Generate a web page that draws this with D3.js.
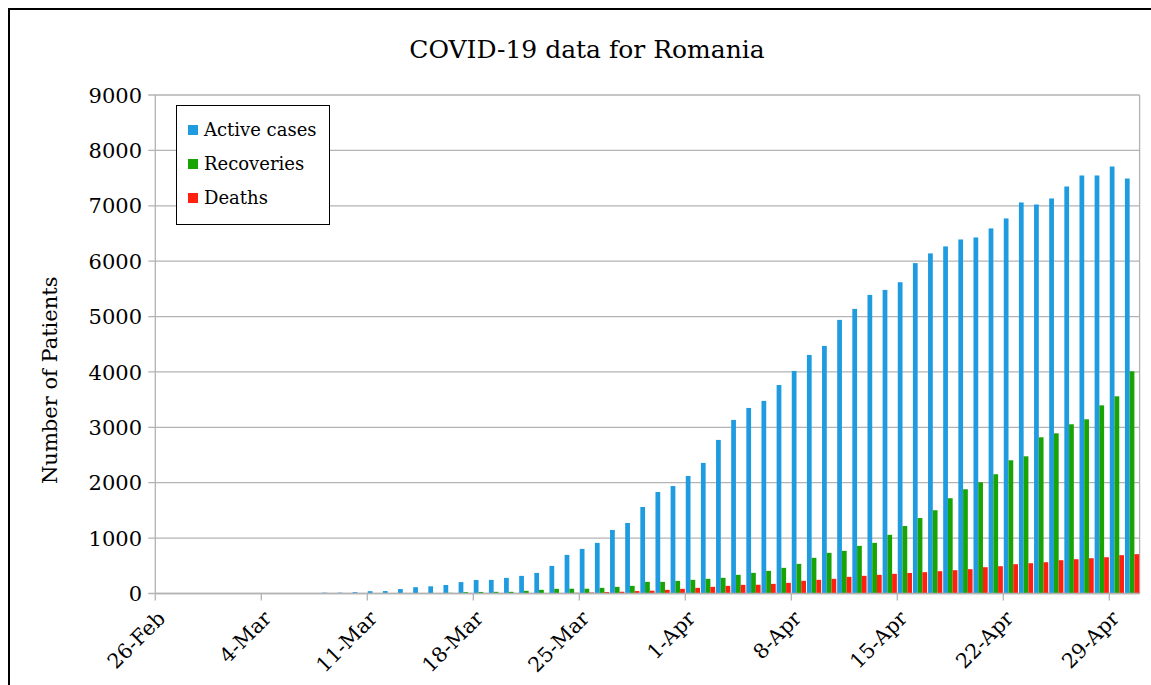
<!DOCTYPE html>
<html><head><meta charset="utf-8">
<script src="https://cdn.jsdelivr.net/npm/d3@7"></script>
<style>
html,body{margin:0;padding:0;background:#fff;}
svg{display:block;font-family:"DejaVu Serif",serif;}
</style></head>
<body><svg id="chart" width="1151" height="685"></svg>
<script>
const dates = ["26-Feb","27-Feb","28-Feb","29-Feb","1-Mar","2-Mar","3-Mar","4-Mar","5-Mar","6-Mar","7-Mar","8-Mar","9-Mar","10-Mar","11-Mar","12-Mar","13-Mar","14-Mar","15-Mar","16-Mar","17-Mar","18-Mar","19-Mar","20-Mar","21-Mar","22-Mar","23-Mar","24-Mar","25-Mar","26-Mar","27-Mar","28-Mar","29-Mar","30-Mar","31-Mar","1-Apr","2-Apr","3-Apr","4-Apr","5-Apr","6-Apr","7-Apr","8-Apr","9-Apr","10-Apr","11-Apr","12-Apr","13-Apr","14-Apr","15-Apr","16-Apr","17-Apr","18-Apr","19-Apr","20-Apr","21-Apr","22-Apr","23-Apr","24-Apr","25-Apr","26-Apr","27-Apr","28-Apr","29-Apr","30-Apr"];
const activeCases = [1,1,3,3,3,3,4,4,6,9,9,15,15,24,42,44,80,114,130,154,206,244,246,282,318,372,498,697,805,913,1147,1273,1562,1832,1940,2122,2358,2773,3134,3350,3477,3765,4018,4307,4470,4940,5138,5391,5481,5620,5965,6140,6266,6392,6428,6591,6771,7060,7023,7132,7348,7547,7547,7709,7492];
const recoveries = [0,0,1,1,1,1,1,1,3,3,3,3,3,3,6,6,9,9,9,12,25,28,30,30,48,66,84,86,86,102,120,138,210,210,228,247,265,283,337,373,409,463,535,644,734,770,860,914,1059,1218,1362,1503,1720,1882,2008,2153,2405,2477,2820,2892,3055,3145,3397,3560,4011];
const deaths = [0,0,0,0,0,0,0,0,0,0,0,0,0,0,0,0,0,0,0,0,0,0,0,0,0,4,8,12,17,26,32,44,50,66,84,102,120,138,156,158,174,192,229,247,265,301,319,337,355,370,385,403,421,439,475,493,529,547,565,601,619,637,655,692,710];
const seriesNames = ["Active cases","Recoveries","Deaths"];
const seriesColors = ["#1f9be0","#19a405","#ff2010"];
const yTicks = [0,1000,2000,3000,4000,5000,6000,7000,8000,9000];
const xTickLabels = ["26-Feb","4-Mar","11-Mar","18-Mar","25-Mar","1-Apr","8-Apr","15-Apr","22-Apr","29-Apr"];
const title = "COVID-19 data for Romania";
const yTitle = "Number of Patients";

const svg = d3.select("#chart");
const L = 155.3, R = 1139.6, T = 95, B = 593.5;
const x = d3.scaleBand().domain(dates).range([L, R]).paddingInner(0.06).paddingOuter(0.03);
const sub = d3.scaleBand().domain(seriesNames).range([0, x.bandwidth()]);
const y = d3.scaleLinear().domain([0, 9000]).range([B, T]);
const grid = "#b3b3b3";

// outer frame
svg.append("rect").attr("x",9).attr("y",9).attr("width",1300).attr("height",900)
  .attr("fill","none").attr("stroke","#000").attr("stroke-width",2);

// title
svg.append("text").attr("x",587).attr("y",58).attr("text-anchor","middle")
  .attr("font-size",25).attr("fill","#000").text(title);

// gridlines
svg.append("g").selectAll("line").data(yTicks).join("line")
  .attr("x1",L-7).attr("x2",R).attr("y1",d=>y(d)).attr("y2",d=>y(d))
  .attr("stroke",grid).attr("stroke-width",1.3);
// right border
svg.append("line").attr("x1",R).attr("x2",R).attr("y1",T).attr("y2",B).attr("stroke",grid).attr("stroke-width",1.3);

// y labels
svg.append("g").selectAll("text").data(yTicks).join("text")
  .attr("x",142).attr("y",d=>y(d)).attr("dy","0.36em").attr("text-anchor","end")
  .attr("font-size",21).attr("fill","#000").text(d=>d);

// y title
svg.append("text").attr("transform",`translate(57,${(T+B)/2+36}) rotate(-90)`)
  .attr("text-anchor","middle").attr("font-size",21).attr("fill","#000").text(yTitle);

// bars
const data = dates.map((d,i)=>({date:d, vals:[activeCases[i],recoveries[i],deaths[i]]}));
const groups = svg.append("g").selectAll("g").data(data).join("g")
  .attr("transform",d=>`translate(${x(d.date)},0)`);
groups.selectAll("rect").data(d=>d.vals.map((v,k)=>({k,v}))).join("rect")
  .attr("x",d=>sub(seriesNames[d.k])).attr("width",sub.bandwidth())
  .attr("y",d=>y(d.v)).attr("height",d=>B-y(d.v))
  .attr("fill",d=>seriesColors[d.k]);

// axes lines
svg.append("line").attr("x1",L).attr("x2",L).attr("y1",T).attr("y2",B).attr("stroke",grid).attr("stroke-width",1.3);
svg.append("line").attr("x1",L).attr("x2",R).attr("y1",B).attr("y2",B).attr("stroke",grid).attr("stroke-width",1.3);

// x ticks at category left edges
const step = x.step();
const tickPos = d => L + dates.indexOf(d)*step;
svg.append("g").selectAll("line").data(xTickLabels).join("line")
  .attr("x1",d=>tickPos(d)).attr("x2",d=>tickPos(d)).attr("y1",B).attr("y2",B+7)
  .attr("stroke",grid).attr("stroke-width",1.3);
svg.append("g").selectAll("text").data(xTickLabels).join("text")
  .attr("transform",d=>`translate(${tickPos(d)+1},${B+16}) rotate(-45)`)
  .attr("text-anchor","end").attr("dy","0.7em").attr("font-size",20.5).attr("fill","#000").text(d=>d);

// legend
const lg = svg.append("g");
lg.append("rect").attr("x",176.5).attr("y",105.5).attr("width",153).attr("height",119)
  .attr("fill","#fff").attr("stroke","#000").attr("stroke-width",1);
seriesNames.forEach((n,i)=>{
  lg.append("rect").attr("x",188).attr("y",125+i*34).attr("width",10).attr("height",10).attr("fill",seriesColors[i]);
  lg.append("text").attr("x",204).attr("y",130+i*34).attr("dy","0.36em").attr("font-size",18).attr("fill","#000").text(n);
});
</script></body></html>
